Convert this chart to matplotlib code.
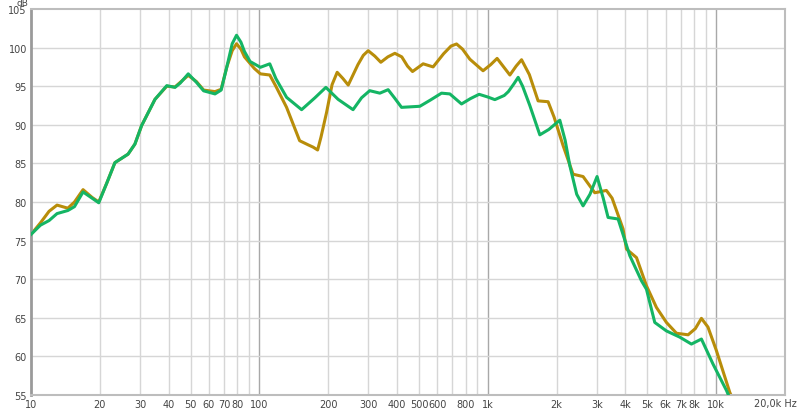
import matplotlib.pyplot as plt
from matplotlib.ticker import FixedLocator, NullFormatter

# frequency response (Hz, dB)
gold_f = [10, 11, 12, 13, 14.5, 15.5, 16.9, 18.5, 19.8, 21.5, 23.3, 26.6, 28.5, 30.5,
          34.9, 39.3, 42.7, 45, 48.8, 53, 57, 63.9, 68, 72, 76, 79.4, 83, 86, 95, 101, 111, 118,
          131.5, 150, 163.6, 172, 179.8, 186, 196.8, 208, 219, 232, 244.8, 270, 285, 299.4, 320,
          340, 365, 391.7, 420, 445, 468, 521, 576, 640, 690, 729.6, 775, 834, 953, 1030, 1098,
          1249, 1330, 1405, 1520, 1660, 1836, 1950, 2136, 2362, 2612, 2939, 3305, 3500, 3910,
          4046, 4476, 4949, 5471, 6053, 6698, 7530, 8100, 8612, 9200, 10020, 11460, 11800]
gold_db = [75.8, 77.3, 78.8, 79.6, 79.2, 80.0, 81.6, 80.6, 80.0, 82.5, 85.1, 86.2, 87.5, 89.9,
           93.3, 95.0, 94.9, 95.5, 96.4, 95.6, 94.5, 94.3, 94.6, 97.5, 99.6, 100.5, 99.8, 98.8, 97.3, 96.6, 96.45, 95.0,
           92.26, 87.94, 87.4, 87.1, 86.74, 88.4, 91.6, 95.2, 96.8, 96.0, 95.15, 97.8, 99.0, 99.6, 98.9,
           98.1, 98.8, 99.26, 98.8, 97.6, 96.9, 97.9, 97.5, 99.2, 100.2, 100.47, 99.8, 98.5, 97.0, 97.8, 98.6,
           96.45, 97.6, 98.43, 96.5, 93.1, 92.99, 91.0, 87.3, 83.6, 83.3, 81.2, 81.5, 80.5, 76.5,
           73.9, 72.8, 69.15, 66.35, 64.4, 63.0, 62.8, 63.6, 64.93, 63.8, 60.74, 55.35, 54.5]

green_f = [10, 11, 12, 13, 14.5, 15.5, 16.9, 18.5, 19.8, 21.5, 23.3, 26.6, 28.5, 30.5,
           34.9, 39.3, 42.7, 45, 48.8, 53, 57, 63.9, 68, 72, 76, 79.4, 83, 86, 91, 101, 111, 118,
           131.5, 153, 175, 195.4, 221, 257, 280, 304, 336.7, 366, 390, 419, 504, 560,
           627, 682, 767, 840, 916, 1000, 1073, 1180, 1230, 1300, 1358, 1420, 1527, 1689, 1850,
           2066, 2180, 2286, 2450, 2612, 2800, 3008, 3200, 3361, 3718, 4184, 4705, 4949,
           5381, 6053, 6920, 7786, 8612, 9684, 11082, 11500]
green_db = [75.8, 77.0, 77.6, 78.5, 78.9, 79.4, 81.3, 80.5, 79.9, 82.5, 85.1, 86.2, 87.5, 89.9,
            93.3, 95.07, 94.85, 95.4, 96.6, 95.5, 94.4, 94.0, 94.5, 97.5, 100.5, 101.6, 100.7, 99.5, 98.2, 97.45, 97.9, 96.0,
            93.56, 91.96, 93.5, 94.85, 93.3, 91.96, 93.5, 94.42, 94.1, 94.55, 93.5, 92.26, 92.4, 93.2,
            94.1, 94.0, 92.7, 93.4, 93.95, 93.6, 93.26, 93.8, 94.3, 95.3, 96.15, 95.0, 92.5, 88.7, 89.4,
            90.6, 88.0, 84.7, 81.0, 79.5, 81.0, 83.3, 80.5, 78.0, 77.8, 73.05, 69.8, 68.7,
            64.4, 63.3, 62.5, 61.6, 62.25, 59.0, 55.6, 54.5]

x_ticks = [10, 20, 30, 40, 50, 60, 70, 80, 100, 200, 300, 400, 500, 600, 800,
           1000, 2000, 3000, 4000, 5000, 6000, 7000, 8000, 10000]
x_labels = ['10', '20', '30', '40', '50', '60', '70', '80', '100', '200', '300', '400', '500',
            '600', '800', '1k', '2k', '3k', '4k', '5k', '6k', '7k', '8k', '10k']
y_ticks = [55, 60, 65, 70, 75, 80, 85, 90, 95, 100, 105]

fig = plt.figure(figsize=(8, 4.1), dpi=100)
ax = fig.add_axes([0.03875, 0.0341, 0.9425, 0.9415])

# light minor grid and darker decade lines
minor = [m * d for d in (10, 100, 1000) for m in range(2, 10)]
for f in minor:
    ax.axvline(f, color='#d6d6d6', lw=1, zorder=0)
for f in (100, 1000, 10000):
    ax.axvline(f, color='#a8a8a8', lw=1, zorder=0)
for v in y_ticks[1:-1]:
    ax.axhline(v, color='#d6d6d6', lw=1, zorder=0)

ax.plot(gold_f, gold_db, color='#b88d0a', lw=2.2, solid_joinstyle='round', zorder=2)
ax.plot(green_f, green_db, color='#14b564', lw=2.2, solid_joinstyle='round', zorder=3)

ax.set_xscale('log')
ax.set_xlim(10, 20000)
ax.set_ylim(55, 105)
ax.xaxis.set_major_locator(FixedLocator(x_ticks))
ax.xaxis.set_minor_locator(FixedLocator([]))
ax.xaxis.set_minor_formatter(NullFormatter())
ax.set_xticklabels(x_labels)
ax.set_yticks(y_ticks)
ax.tick_params(axis='both', length=0, labelsize=7, colors='#444444', pad=3)

for side in ('top', 'right', 'bottom'):
    ax.spines[side].set_color('#bdbdbd')
    ax.spines[side].set_linewidth(1.5)
ax.spines['left'].set_color('#9a9a9a')
ax.spines['left'].set_linewidth(2)

fig.text(0.996, 6 / 410, '20,0k Hz', ha='right', va='center', fontsize=7, color='#444444')
fig.text(22 / 800, 1 - 3 / 410, 'dB', ha='center', va='center', fontsize=6.5, color='#444444')

fig.savefig('out.png', dpi=100, facecolor='white')
